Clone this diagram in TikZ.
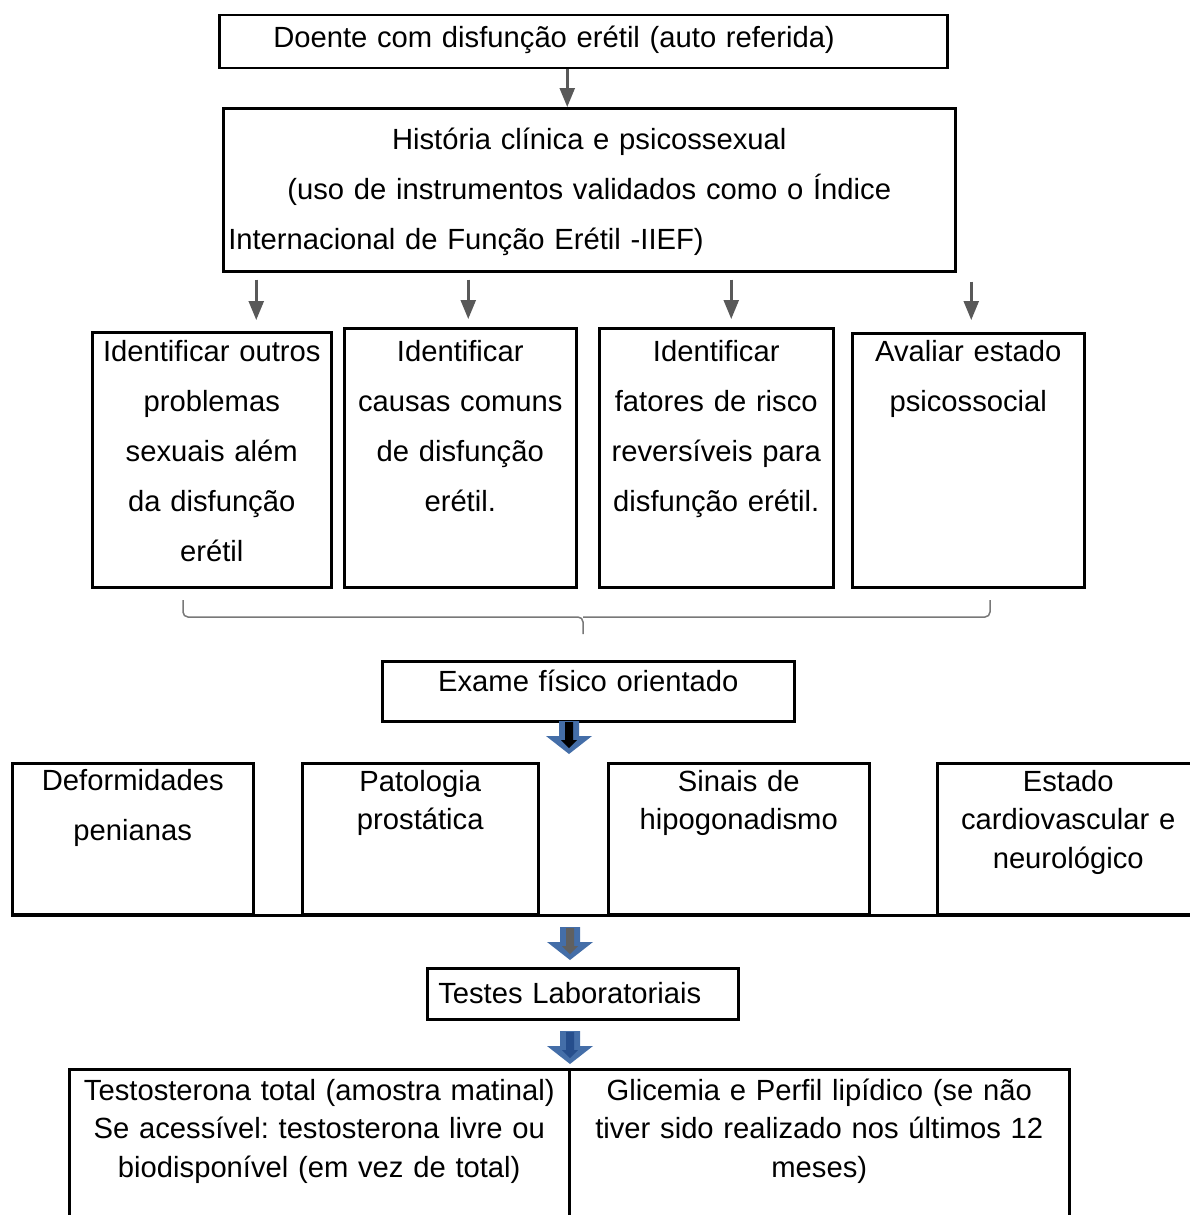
\documentclass[tikz,border=0pt]{standalone}
\usepackage{fontspec}
\setmainfont{Liberation Sans}
\usepackage{xcolor}
\usepackage{tikz}
\usetikzlibrary{arrows.meta, positioning, calc}
\definecolor{cinzaseta}{RGB}{89, 89, 89}
\definecolor{cinzachave}{RGB}{120, 120, 120}
\definecolor{azulbloco}{RGB}{68, 110, 168}
\definecolor{azulescuro}{RGB}{38, 78, 140}
\definecolor{cinzabloco}{RGB}{96, 96, 96}
\frenchspacing

% seta larga azul, com uma seta interior de outra cor
\newcommand{\setabloco}[2]{%
  \fill[azulbloco, shift={#1}] (-10,0) -- (10,0) -- (10,15) -- (23,15) -- (0,33) -- (-23,15) -- (-10,15) -- cycle;
  \fill[#2, shift={#1}] (-4,1) -- (4,1) -- (4,19) -- (8,19) -- (0,27) -- (-8,19) -- (-4,19) -- cycle;
}

\begin{document}
\begin{tikzpicture}[
    x=1pt, y=-1pt,
    caixa/.style={draw, line width=2.5pt, anchor=north west, inner sep=0pt, align=center, font=\fontsize{29.2}{50}\selectfont},
    junta/.style={font=\fontsize{29.2}{38.5}\selectfont},
    tam/.style n args={3}{text width=#1, text height=#2, text depth=#3},
    seta/.style={-{Triangle[length=19pt, width=15pt]}, line width=2.5pt, color=cinzaseta},
    chave/.style={line width=1.5pt, color=cinzachave, rounded corners=5pt}
]
    \useasboundingbox (0,0) rectangle (1190,1215);
    \clip (0,0) rectangle (1190,1215);

    \node[caixa, tam={728pt}{32pt}{21pt}] (doente) at (218,14) {\makebox[\linewidth][l]{\hspace*{54pt}Doente com disfunção erétil (auto referida)}};
    \node[caixa, tam={732pt}{41pt}{122pt}] (hist) at (222,107) {História clínica e psicossexual\\(uso de instrumentos validados como o Índice\\\makebox[\linewidth][l]{\hspace*{5pt}Internacional de Função Erétil -IIEF)}};

    % quatro caixas de identificacao
    \node[caixa, tam={239pt}{29pt}{226pt}] (outros) at (91,331) {Identificar outros\\problemas\\sexuais além\\da disfunção\\erétil};
    \node[caixa, tam={232pt}{33pt}{226pt}] (causas) at (343,327) {Identificar\\causas comuns\\de disfunção\\erétil.};
    \node[caixa, tam={234pt}{33pt}{226pt}] (fatores) at (598,327) {Identificar\\fatores de risco\\reversíveis para\\disfunção erétil.};
    \node[caixa, tam={232pt}{28pt}{226pt}] (psico) at (851,332) {Avaliar estado\\psicossocial};

    \draw[seta] ($(doente.south)+(-16,0)$) -- ($(hist.north)+(-22,0)$);
    \coordinate (pA) at ($(hist.south)+(-333,7)$);
    \coordinate (pB) at ($(hist.south)+(-121,7)$);
    \coordinate (pC) at ($(hist.south)+(142,7)$);
    \coordinate (pD) at ($(hist.south)+(382,9)$);
    \draw[seta, shorten >=11pt] (pA) -- (pA |- outros.north);
    \draw[seta, shorten >=8pt] (pB) -- (pB |- causas.north);
    \draw[seta, shorten >=8pt] (pC) -- (pC |- fatores.north);
    \draw[seta, shorten >=12pt] (pD) -- (pD |- psico.north);

    % chaveta
    \draw[chave] (183,600) |- (583,617) -- (583,634);
    \draw[chave] (990,600) |- (583,617);

    \node[caixa, tam={412pt}{30pt}{30pt}] (exame) at (381,660) {Exame físico orientado};
    \setabloco{(569,721)}{black}

    % exame fisico
    \node[caixa, tam={241pt}{27pt}{124pt}] (deform) at (11,762) {Deformidades\\penianas};
    \node[caixa, junta, tam={236pt}{28pt}{123pt}] (prost) at (301,762) {Patologia\\prostática};
    \node[caixa, junta, tam={261pt}{28pt}{123pt}] (hipo) at (607,762) {Sinais de\\hipogonadismo};
    \node[caixa, junta, tam={262pt}{28pt}{123pt}] (cardio) at (936,762) {Estado\\cardiovascular e\\neurológico};
    \draw[line width=2.5pt] (deform.south west) -- (cardio.south east);

    \setabloco{(570,927)}{cinzabloco}
    \node[caixa, align=left, tam={311pt}{35pt}{16pt}] (testes) at (426,967) {\hspace*{11pt}Testes Laboratoriais};
    \setabloco{(570,1031)}{azulescuro}

    \node[caixa, junta, tam={500pt}{31pt}{169pt}] (testo) at (68,1068) {Testosterona total (amostra matinal)\\Se acessível: testosterona livre ou\\biodisponível (em vez de total)};
    \node[caixa, junta, tam={500pt}{31pt}{169pt}] (glic) at (568,1068) {Glicemia e Perfil lipídico (se não\\tiver sido realizado nos últimos 12\\meses)};
\end{tikzpicture}
\end{document}
